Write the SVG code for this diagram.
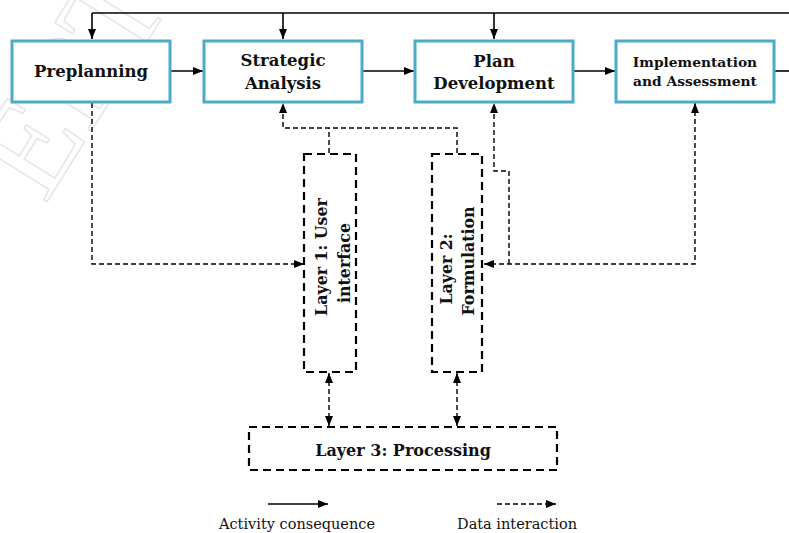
<svg xmlns="http://www.w3.org/2000/svg" width="789" height="533" viewBox="0 0 789 533">
  <defs>
    <marker id="head" viewBox="0 0 10 8" refX="10" refY="4" markerWidth="10" markerHeight="8" markerUnits="userSpaceOnUse" orient="auto-start-reverse">
      <path d="M0,0 L10,4 L0,8 z" fill="#000"/>
    </marker>
    <style>
      .step rect { fill: #fff; stroke: #4bacc6; stroke-width: 3; }
      .layer rect { fill: #fff; stroke: #000; stroke-width: 2.2; stroke-dasharray: 8 5; }
      .label { font-family: "DejaVu Serif", "Liberation Serif", serif; font-weight: bold; fill: #111; text-anchor: middle; }
      .flow { fill: none; stroke: #000; stroke-width: 1.6; }
      .data { fill: none; stroke: #000; stroke-width: 1.4; stroke-dasharray: 5 3; }
      .legend { font-family: "DejaVu Serif", "Liberation Serif", serif; font-size: 14.5px; fill: #111; text-anchor: middle; }
      .mark { font-family: "Liberation Serif", serif; font-size: 135px; fill: none; stroke: #e6e6e6; stroke-width: 1.6; }
    </style>
  </defs>

  <rect width="789" height="533" fill="#fff"/>

  <!-- faint background stamp -->
  <text class="mark" transform="translate(45,205) rotate(-58)">EPT</text>

  <!-- connectors -->
  <g id="connectors">
    <!-- activity feedback line along the top -->
    <path class="flow" d="M92,13 H789" stroke-width="2.2"/>
    <path class="flow" d="M92,13 V39" marker-end="url(#head)"/>
    <path class="flow" d="M283,13 V39" marker-end="url(#head)"/>
    <path class="flow" d="M494,13 V39" marker-end="url(#head)"/>
    <!-- activity sequence -->
    <path class="flow" d="M170,71 H203" marker-end="url(#head)"/>
    <path class="flow" d="M362,71 H414" marker-end="url(#head)"/>
    <path class="flow" d="M573,71 H615" marker-end="url(#head)"/>
    <path class="flow" d="M775,71 H789"/>

    <!-- data interactions -->
    <path class="data" d="M92,103 V264 H304" marker-end="url(#head)"/>
    <path class="data" d="M457,153 V128 H283 V103" marker-end="url(#head)"/>
    <path class="data" d="M329,153 V128"/>
    <path class="data" d="M509,264 V171 H494 V103" marker-end="url(#head)"/>
    <path class="data" d="M695,103 V264 H484" marker-start="url(#head)" marker-end="url(#head)"/>
    <path class="data" d="M329,373 V426" marker-start="url(#head)" marker-end="url(#head)"/>
    <path class="data" d="M457,373 V426" marker-start="url(#head)" marker-end="url(#head)"/>
  </g>

  <!-- process steps -->
  <g id="preplanning" class="step">
    <rect x="12" y="41" width="158" height="61"/>
    <text class="label" x="91" y="77" font-size="16.5">Preplanning</text>
  </g>
  <g id="strategic-analysis" class="step">
    <rect x="204" y="41" width="158" height="61"/>
    <text class="label" x="283" y="66" font-size="16.5">Strategic</text>
    <text class="label" x="283" y="89" font-size="16.5">Analysis</text>
  </g>
  <g id="plan-development" class="step">
    <rect x="415" y="41" width="158" height="61"/>
    <text class="label" x="494" y="67" font-size="16.5">Plan</text>
    <text class="label" x="494" y="89" font-size="16.5">Development</text>
  </g>
  <g id="implementation" class="step">
    <rect x="616" y="41" width="158" height="61"/>
    <text class="label" x="695" y="67" font-size="13.8">Implementation</text>
    <text class="label" x="695" y="86" font-size="13.8">and Assessment</text>
  </g>

  <!-- system layers -->
  <g id="layer1" class="layer">
    <rect x="304" y="154" width="52" height="218"/>
    <text class="label" font-size="15.8" transform="translate(327,257) rotate(-90)">Layer 1: User</text>
    <text class="label" font-size="15.8" transform="translate(350,263) rotate(-90)">interface</text>
  </g>
  <g id="layer2" class="layer">
    <rect x="432" y="154" width="50" height="218"/>
    <text class="label" font-size="15.8" transform="translate(452,269) rotate(-90)">Layer 2:</text>
    <text class="label" font-size="15.8" transform="translate(474,261) rotate(-90)">Formulation</text>
  </g>
  <g id="layer3" class="layer">
    <rect x="249" y="427" width="308" height="43"/>
    <text class="label" x="403" y="456" font-size="16">Layer 3: Processing</text>
  </g>

  <!-- legend -->
  <g id="legend">
    <path class="flow" d="M268,504 H328" marker-end="url(#head)"/>
    <text class="legend" x="297" y="529">Activity consequence</text>
    <path class="data" d="M497,504 H556" marker-end="url(#head)"/>
    <text class="legend" x="517" y="529">Data interaction</text>
  </g>
</svg>
